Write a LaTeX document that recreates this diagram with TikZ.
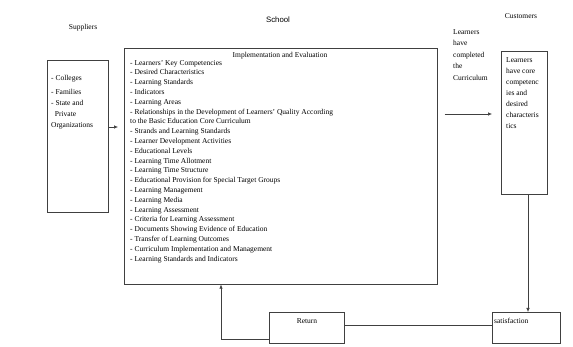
\documentclass[tikz,border=0pt]{standalone}
\usepackage{fontspec}
\setmainfont{Liberation Serif}
\newfontfamily\headfont{Liberation Sans}
\usetikzlibrary{positioning,arrows.meta}

\begin{document}
\begin{tikzpicture}[x=1pt,y=-1pt]
                        \tikzstyle{every node}+=[inner sep=0pt]
                        \tikzset{
                          boxed/.style={draw=black!75, line width=0.6pt, anchor=north west},
                          txt/.style={font=\fontsize{7.5}{9}\selectfont},
                          lines/.style={font=\fontsize{7.5}{#1}\selectfont, align=left, anchor=north west},
                          arr/.style={draw=black!75, line width=0.6pt, -{Latex[length=4pt,width=3.5pt]}},
                          link/.style={draw=black!75, line width=0.6pt}
                        }
                        \useasboundingbox (0,0) rectangle (573,347);
                        % headings
                        \node [txt] (suppliers) at (83,28) {Suppliers};
                        \node [txt, font=\headfont\fontsize{7.8}{9}\selectfont] (school) at (278,20) {School};
                        \node [txt] (customers) at (521,16) {Customers};
                        % boxes
                        \node [boxed, minimum width=61, minimum height=152] (sup) at (47,60) {};
                        \node [boxed, minimum width=313, minimum height=236] (main) at (124,48) {};
                        \node [boxed, minimum width=46, minimum height=143] (cust) at (501,51) {};
                        \node [boxed, minimum width=75, minimum height=31] (ret) at (269,312) {};
                        \node [boxed, minimum width=68, minimum height=31] (sat) at (492,312) {};
                        % texts
                        \node [lines=11] (suptext) at (51,75) {- Colleges\\[3pt]- Families\\- State and\\\ \ Private\\Organizations};
                        \node [txt] (title) at (280,56) {Implementation and Evaluation};
                        \node [lines=9.8] (list) at (130,60) {- Learners' Key Competencies\\
                          - Desired Characteristics\\
                          - Learning Standards\\
                          - Indicators\\
                          - Learning Areas\\
                          - Relationships in the Development of Learners' Quality According\\
                          to the Basic Education Core Curriculum\\
                          - Strands and Learning Standards\\
                          - Learner Development Activities\\
                          - Educational Levels\\
                          - Learning Time Allotment\\
                          - Learning Time Structure\\
                          - Educational Provision for Special Target Groups\\
                          - Learning Management\\
                          - Learning Media\\
                          - Learning Assessment\\
                          - Criteria for Learning Assessment\\
                          - Documents Showing Evidence of Education\\
                          - Transfer of Learning Outcomes\\
                          - Curriculum Implementation and Management\\
                          - Learning Standards and Indicators};
                        \node [lines=11.5] (done) at (453,29) {Learners\\have\\completed\\the\\Curriculum};
                        \node [lines=11] (custtext) at (506,57) {Learners\\have core\\competenc\\ies and\\desired\\characteris\\tics};
                        \node [txt] (rettext) at (307,321) {Return};
                        \node [txt, anchor=west] (sattext) at (494,321) {satisfaction};
                        % connectors
                        \coordinate (y1) at (0,127);
                        \coordinate (y2) at (0,114);
                        \coordinate (x1) at (528,0);
                        \coordinate (y3) at (0,325);
                        \coordinate (c2) at (221,339);
                        \draw [arr, shorten >=6pt] (sup.east |- y1) -- (main.west |- y1);
                        \draw [arr, shorten <=7pt, shorten >=9pt] (main.east |- y2) -- (cust.west |- y2);
                        \draw [arr] (cust.south -| x1) -- (sat.north -| x1);
                        \draw [link] (sat.west |- y3) -- (ret.east |- y3);
                        \draw [arr] (ret.west |- c2) -- (c2) -- (main.south -| c2);
\end{tikzpicture}
\end{document}
